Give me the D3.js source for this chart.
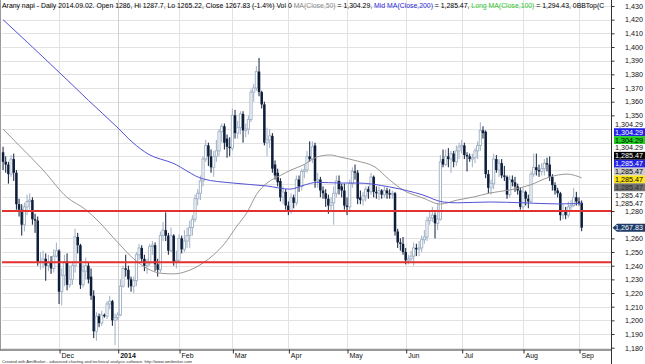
<!DOCTYPE html>
<html><head><meta charset="utf-8">
<script src="https://cdn.jsdelivr.net/npm/d3@7"></script>
<style>
html,body{margin:0;padding:0;background:#fff;}
svg{display:block;font-family:"Liberation Sans",Arial,sans-serif;}
</style>
</head><body>
<svg id="c" width="645" height="364"></svg>
<script>
// ---- data (daily bars, weekdays from 2013-11-01 to 2014-09-02) ----
const firstDay = "2013-11-01";
const opens = [
1323,1316,1314,1307,1318,1308,1285,1281,1270,1283,
1287,1288,1274,1273,1243,1243,1245,1240,1242,1238,
1247,1251,1221,1233,1243,1226,1230,1240,1261,1255,
1226,1236,1240,1232,1218,1192,1203,1198,1204,1203,
1212,1214,1200,1202,1204,1225,1238,1237,1230,1225,
1229,1248,1253,1245,1240,1242,1254,1255,1241,1237,
1262,1266,1262,1251,1262,1243,1244,1260,1252,1258,
1262,1268,1274,1289,1293,1302,1318,1328,1320,1312,
1320,1324,1338,1342,1333,1327,1326,1350,1337,1341,
1351,1339,1340,1347,1367,1370,1382,1367,1358,1330,
1332,1335,1314,1308,1302,1290,1294,1284,1280,1290,
1286,1303,1298,1309,1310,1320,1318,1328,1302,1303,
1295,1293,1289,1284,1286,1293,1302,1298,1295,1284,
1283,1300,1309,1308,1290,1288,1291,1296,1294,1305,
1294,1293,1295,1292,1295,1293,1292,1293,1265,1257,
1256,1250,1244,1245,1247,1253,1252,1253,1259,1261,
1273,1275,1277,1271,1274,1318,1314,1320,1318,1322,
1316,1324,1327,1328,1321,1320,1318,1319,1324,1328,
1339,1338,1307,1297,1300,1318,1310,1315,1306,1305,
1292,1303,1301,1298,1295,1283,1294,1289,1287,1307,
1312,1310,1309,1311,1315,1314,1305,1299,1295,1293,
1277,1280,1277,1283,1284,1290,1287,1286];
const highs = [
1327,1320,1316,1321,1322,1310,1289,1285,1286,1292,
1293,1290,1278,1276,1250,1251,1249,1248,1247,1252,
1257,1252,1238,1248,1249,1240,1243,1267,1264,1256,
1241,1246,1242,1238,1222,1206,1205,1207,1205,1214,
1218,1215,1205,1206,1230,1240,1248,1240,1232,1232,
1250,1256,1255,1248,1245,1256,1258,1257,1245,1265,
1272,1279,1264,1268,1263,1251,1263,1262,1266,1268,
1273,1277,1292,1296,1306,1320,1332,1330,1325,1324,
1332,1340,1344,1344,1336,1334,1355,1354,1346,1353,
1353,1344,1350,1369,1373,1386,1392,1368,1360,1341,
1340,1337,1317,1311,1304,1298,1296,1287,1293,1292,
1306,1306,1311,1314,1324,1331,1331,1330,1308,1305,
1298,1296,1292,1290,1298,1306,1306,1300,1300,1290,
1303,1312,1314,1310,1295,1294,1298,1298,1308,1306,
1298,1298,1296,1298,1297,1296,1295,1294,1267,1260,
1261,1253,1248,1251,1257,1256,1258,1262,1266,1276,
1280,1283,1279,1286,1321,1325,1325,1326,1324,1324,
1328,1330,1332,1330,1323,1322,1322,1326,1331,1345,
1342,1339,1310,1303,1322,1321,1318,1318,1313,1306,
1306,1306,1305,1300,1297,1297,1295,1292,1309,1322,
1322,1314,1315,1318,1319,1320,1307,1301,1297,1294,
1285,1283,1287,1288,1297,1294,1290,1287.7];
const lows = [
1310,1308,1300,1305,1302,1281,1276,1262,1265,1277,
1281,1270,1264,1240,1237,1238,1229,1236,1234,1235,
1246,1212,1211,1225,1222,1224,1226,1235,1249,1223,
1224,1230,1227,1215,1187,1185,1195,1196,1202,1201,
1208,1196,1182,1200,1203,1224,1232,1224,1221,1220,
1225,1244,1242,1236,1234,1240,1248,1236,1232,1235,
1258,1258,1248,1250,1240,1238,1242,1249,1250,1253,
1253,1262,1272,1284,1288,1298,1316,1313,1308,1305,
1316,1320,1330,1325,1319,1320,1324,1333,1333,1336,
1330,1334,1336,1345,1360,1368,1364,1355,1328,1320,
1326,1308,1303,1298,1287,1285,1281,1277,1278,1282,
1284,1294,1295,1304,1308,1316,1315,1297,1297,1290,
1289,1283,1278,1280,1270,1290,1292,1290,1281,1277,
1280,1297,1303,1285,1285,1284,1287,1289,1292,1290,
1289,1288,1289,1290,1289,1289,1289,1262,1253,1251,
1248,1241,1241,1242,1240,1247,1247,1250,1256,1258,
1270,1272,1260,1266,1273,1312,1313,1312,1308,1312,
1313,1318,1322,1318,1309,1316,1312,1315,1318,1324,
1333,1304,1293,1292,1296,1308,1305,1304,1302,1289,
1290,1298,1294,1292,1281,1281,1284,1282,1286,1305,
1306,1305,1306,1306,1309,1302,1295,1292,1290,1273,
1274,1274,1275,1280,1283,1284,1284,1265.22];
const closes = [
1316,1314,1307,1318,1308,1285,1281,1270,1283,1287,
1288,1274,1273,1243,1243,1245,1240,1242,1238,1247,
1251,1221,1233,1243,1226,1230,1240,1261,1255,1226,
1236,1240,1230,1218,1192,1203,1198,1204,1203,1212,
1214,1200,1202,1204,1225,1238,1237,1230,1225,1229,
1248,1253,1245,1240,1242,1254,1255,1241,1237,1262,
1266,1262,1251,1262,1243,1244,1260,1252,1258,1262,
1268,1274,1289,1293,1302,1318,1328,1320,1312,1320,
1324,1338,1342,1330,1327,1326,1350,1337,1341,1351,
1339,1340,1347,1367,1370,1382,1367,1358,1330,1332,
1335,1311,1306,1301,1290,1294,1284,1280,1290,1286,
1303,1298,1309,1310,1320,1318,1327,1302,1303,1295,
1293,1289,1284,1286,1293,1302,1296,1295,1284,1283,
1300,1309,1308,1289,1288,1291,1296,1294,1305,1294,
1293,1295,1292,1295,1293,1292,1293,1265,1257,1256,
1250,1244,1245,1247,1253,1252,1253,1259,1261,1273,
1275,1277,1271,1274,1316,1314,1320,1318,1322,1316,
1324,1327,1328,1321,1320,1318,1319,1324,1328,1339,
1337,1307,1297,1300,1318,1310,1315,1306,1305,1292,
1303,1301,1298,1295,1283,1294,1289,1287,1307,1312,
1310,1309,1311,1315,1314,1305,1299,1295,1293,1277,
1280,1277,1283,1284,1290,1287,1286,1267.83];
// moving averages: [bar index, value]
const ma50 = [[0,1340],[6,1328],[15,1310],[24,1290],[31,1281],[36,1272],[43,1257],[49,1245],[54,1238],[59,1234.5],[64,1234],[69,1236],[75,1242],[79,1248],[83,1256],[87.7,1269],[91.5,1279],[95,1292],[99,1300.5],[104,1306],[108,1310],[112.5,1313.6],[117.7,1319.5],[122.6,1321],[126.4,1319.5],[132.8,1316.6],[139.5,1312.2],[145,1302.7],[150,1295.4],[157.5,1289.5],[164,1285.1],[170.3,1288],[176.3,1290.2],[182.6,1293.2],[190,1295.4],[197.6,1299],[205,1304.9],[211.5,1307],[217,1304.29]];
const ma200 = [[0,1420],[11,1400],[24,1376],[32,1361],[42.7,1341.5],[48.7,1330],[54.4,1321.7],[63.7,1315],[75,1303.5],[86,1300.5],[99,1298.3],[107.6,1296],[113,1299],[117.7,1301],[126.4,1300.5],[132.8,1300.5],[145,1297.6],[157.5,1291.7],[165,1286.6],[170.3,1286],[182.6,1286.6],[195,1286],[207.8,1285.2],[217,1285.47]];
const supportLevels = [1280, 1242.5];
const monthLabels = ["Dec","2014","Feb","Mar","Apr","May","Jun","Jul","Aug","Sep"];
const yTickValues = [1430,1420,1410,1400,1390,1380,1370,1360,1350,1280,1260,1250,1240,1230,1220,1210,1200,1190,1180];
const stackValues = [1304.29,1304.29,1304.29,1304.29,1285.47,1285.47,1285.47,1285.47,1285.47,1285.47,1285.47];
const titleParts = [
  ["Arany napi - Daily 2014.09.02. Open 1286, Hi 1287.7, Lo 1265.22, Close 1267.83 (-1.4%) Vol 0 ", "#000"],
  ["MA(Close,50)", "#8a8a8a"], [" = 1,304.29, ", "#000"],
  ["Mid MA(Close,200)", "#2a2ad8"], [" = 1,285.47, ", "#000"],
  ["Long MA(Close,100)", "#2cc42c"], [" = 1,294.43, ", "#000"],
  ["0BBTop(C", "#000"]
];
const footer = "Created with AmiBroker - advanced charting and technical analysis software. http://www.amibroker.com";

// ---- layout ----
const W = 645, H = 364;
const plotL = 2, plotR = 611, plotB = 349.5;
const svg = d3.select("#c");
const n = closes.length;
const dates = [];
{ const p = firstDay.split("-").map(Number); const d = new Date(p[0], p[1]-1, p[2]);
  while (dates.length < n) { const wd = d.getDay(); if (wd !== 0 && wd !== 6) dates.push(new Date(d)); d.setDate(d.getDate()+1); } }
const tickIdx = [];
for (let i = 1; i < n; i++) if (dates[i].getMonth() !== dates[i-1].getMonth()) tickIdx.push(i);

const x = d3.scaleLinear().domain([-0.4, 228]).range([plotL, plotR]);
const y = d3.scaleLinear().domain([1180, 1430]).range([347.7, 6]);

svg.append("defs").append("clipPath").attr("id","plot").append("rect")
  .attr("x", 1).attr("y", 0).attr("width", plotR - 1).attr("height", plotB);
svg.select("defs").append("clipPath").attr("id","tclip").append("rect")
  .attr("x", 0).attr("y", 0).attr("width", 607).attr("height", 14);

// grid
const grid = svg.append("g").attr("stroke", "#e2e2e2").attr("stroke-width", 1);
d3.range(1180, 1431, 10).forEach(v => {
  const yy = Math.round(y(v)) + 0.5;
  grid.append("line").attr("x1", plotL).attr("x2", plotR).attr("y1", yy).attr("y2", yy);
});
tickIdx.forEach(i => {
  const xx = Math.round(x(i)) + 0.5;
  grid.append("line").attr("x1", xx).attr("x2", xx).attr("y1", 0).attr("y2", plotB)
    .attr("stroke", dates[i].getMonth() === 0 ? "#cfcfcf" : "#e2e2e2");
});

// candles
const cg = svg.append("g").attr("clip-path", "url(#plot)");
const upLine = "#9fb0c3", upFill = "#ffffff", dn = "#0d1d3a";
for (let i = 0; i < n; i++) {
  const o = opens[i], c = closes[i];
  const hi = Math.max(highs[i], o, c), lo = Math.min(lows[i], o, c);
  const cx = x(i);
  const up = c >= o;
  cg.append("line").attr("x1", cx).attr("x2", cx).attr("y1", y(hi)).attr("y2", y(lo))
    .attr("stroke", up ? upLine : dn).attr("stroke-width", 1);
  const top = y(Math.max(o, c)), bot = y(Math.min(o, c));
  const h = Math.max(bot - top, 1);
  if (up) {
    cg.append("rect").attr("x", cx - 1.1).attr("y", top).attr("width", 2.2).attr("height", h)
      .attr("fill", upFill).attr("stroke", upLine).attr("stroke-width", 0.9);
  } else {
    cg.append("rect").attr("x", cx - 1.25).attr("y", top).attr("width", 2.5).attr("height", h)
      .attr("fill", dn);
  }
}

// moving averages
const line = d3.line().x(d => x(d[0])).y(d => y(d[1])).curve(d3.curveMonotoneX);
cg.append("path").datum(ma50).attr("d", line).attr("fill", "none").attr("stroke", "#9c9696").attr("stroke-width", 1);
cg.append("path").datum(ma200).attr("d", line).attr("fill", "none").attr("stroke", "#5252d6").attr("stroke-width", 1);

// support lines
supportLevels.forEach(v => {
  svg.append("line").attr("x1", plotL).attr("x2", plotR).attr("y1", y(v)).attr("y2", y(v))
    .attr("stroke", "#e2312e").attr("stroke-width", 2);
});

// left border
svg.append("line").attr("x1", 0.5).attr("x2", 0.5).attr("y1", 0).attr("y2", plotB).attr("stroke", "#9a9a9a");

// x axis
const xa = svg.append("g").attr("transform", `translate(0,${plotB})`)
  .call(d3.axisBottom(x).tickValues(tickIdx).tickSize(4).tickSizeOuter(0)
    .tickFormat((d, k) => monthLabels[k] || ""));
xa.select(".domain").attr("d", `M0,0.5H${plotR}`).attr("stroke", "#333");
xa.selectAll(".tick line").attr("stroke", "#333").attr("transform", function(){ return "translate(0.5,0)"; });
xa.selectAll(".tick text").attr("text-anchor", "start").attr("x", 2).attr("y", 3.5)
  .attr("font-size", 7).attr("fill", "#111")
  .attr("font-family", "Liberation Sans, Arial, sans-serif")
  .attr("font-weight", (d, k) => monthLabels[k] === "2014" ? "bold" : "normal");

// y axis
const ya = svg.append("g").attr("transform", `translate(${plotR + 0.5},0)`)
  .call(d3.axisRight(y).tickValues(yTickValues).tickSize(3).tickSizeOuter(0).tickFormat(d3.format(",")));
ya.select(".domain").attr("d", `M0,0V${H}`).attr("stroke", "#333");
ya.selectAll(".tick line").attr("stroke", "#333");
ya.selectAll(".tick text").attr("text-anchor", "end").attr("x", 31.5)
  .attr("font-size", 7.2).attr("fill", "#111").attr("font-family", "Liberation Sans, Arial, sans-serif");

// stacked indicator labels
const stackFill = [null, "#2222e6", "#22cf22", null, "#000000", "#2222e6", "#cbcbcb", "#ffe61c", "#6f6f6f", null, null];
const stackInk  = ["#111", "#fff", "#000", "#111", "#fff", "#fff", "#000", "#000", "#2a2a2a", "#111", "#111"];
const step = 7.87;
const fmt = d3.format(",.2f");
const lastY = y(1280) - 8;
const sg = svg.append("g");
stackValues.forEach((v, k) => {
  const cy = lastY - (stackValues.length - 1 - k) * step;
  if (stackFill[k]) sg.append("rect").attr("x", 614).attr("y", cy - step/2).attr("width", 31).attr("height", step)
    .attr("fill", stackFill[k]);
  sg.append("text").attr("x", 643).attr("y", cy).attr("dy", "0.35em").attr("text-anchor", "end")
    .attr("font-size", 7.2).attr("fill", stackInk[k]).text(fmt(v));
});
// last price marker
{
  const lc = closes[n - 1], cy = y(lc);
  svg.append("path").attr("d", `M612.5,${cy} L617,${cy-4} L645,${cy-4} L645,${cy+4} L617,${cy+4} Z`).attr("fill", "#1c3b68");
  svg.append("text").attr("x", 643).attr("y", cy).attr("dy", "0.35em").attr("text-anchor", "end")
    .attr("font-size", 7.2).attr("fill", "#fff").text(fmt(lc));
}

// title
const tt = svg.append("text").attr("x", 2).attr("y", 8).attr("font-size", 10).attr("clip-path", "url(#tclip)");
const spans = titleParts.map(p => tt.append("tspan").attr("fill", p[1]).text(p[0]));
let wsum = 0;
spans.slice(0, -1).forEach(s => { wsum += s.node().getComputedTextLength(); });
tt.attr("font-size", 10 * 572 / wsum);

// footer
svg.append("text").attr("x", 2).attr("y", 362.5).attr("font-size", 4.4).attr("fill", "#333")
  .attr("textLength", 190).attr("lengthAdjust", "spacingAndGlyphs").text(footer);
</script>
</body></html>
